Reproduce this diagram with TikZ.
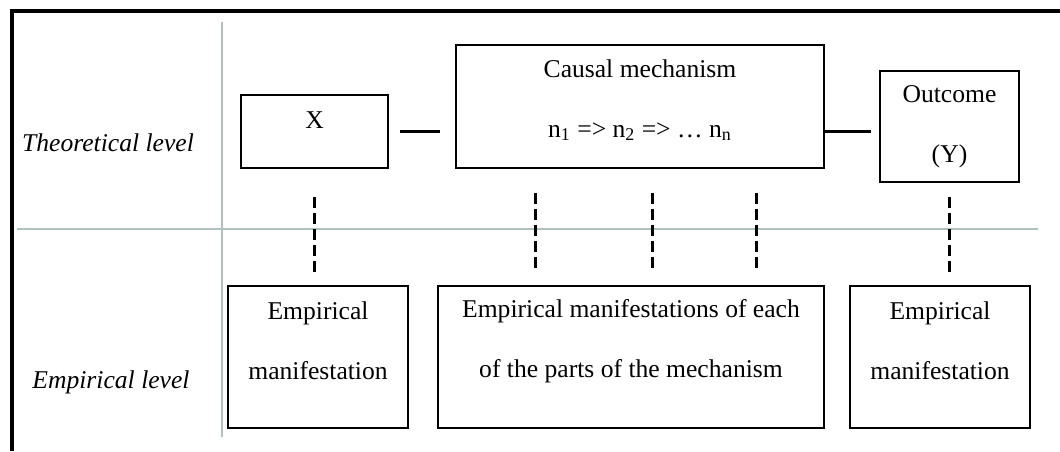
\documentclass[tikz,border=0pt]{standalone}
\usepackage{fontspec}
\setmainfont{Liberation Serif}
\usetikzlibrary{calc}
\definecolor{divgray}{RGB}{178,192,192}

\begin{document}
\begin{tikzpicture}[x=0.5pt,y=-0.5pt,
        box/.style={draw,line width=1.4pt,inner sep=0pt},
        lbl/.style={align=center,inner sep=0pt,font=\fontsize{12.8}{30}\selectfont},
        levelname/.style={inner sep=0pt,font=\fontsize{12.8}{15}\selectfont\itshape},
        divider/.style={line width=1pt,draw=divgray},
        link/.style={line width=1.4pt},
        dashlink/.style={line width=1.5pt,dash pattern=on 5.5pt off 2.5pt}]
    \useasboundingbox (0,0) rectangle (1060,451);
    % frame and the two level dividers
    \draw[line width=1.6pt] (12,451) |- (1060,11);
    \draw[divider] (222,22) -- (222,437);
    \draw[divider] (17,229) -- (1038,229);
    \node[levelname] (theo) at (108,143) {Theoretical level};
    \node[levelname] (emp) at (111,382) {Empirical level};

    % theoretical level
    \node[box,minimum width=73.5pt,minimum height=36.5pt] (x) at (314.5,131.5) {};
    \node[box,minimum width=184pt,minimum height=61.5pt] (mech) at (640,106.5) {};
    \node[box,minimum width=69.5pt,minimum height=55.5pt] (outcome) at (949.5,126.5) {};
    \node[lbl] (xtxt) at ([yshift=5.75pt]x.center) {X};
    \node[lbl] (mechtxt) at ([yshift=3.25pt]mech.center)
        {Causal mechanism\\n\textsubscript{1} => n\textsubscript{2} => … n\textsubscript{n}};
    \node[lbl] (outtxt) at (outcome.center) {Outcome\\(Y)};

    % empirical level
    \node[box,minimum width=90pt,minimum height=71pt] (xemp) at (318,357) {};
    \node[box,minimum width=193pt,minimum height=71pt] (parts) at (631,357) {};
    \node[box,minimum width=90pt,minimum height=71pt] (outemp) at (940,357) {};
    \node[lbl] (xemptxt) at ([yshift=8pt]xemp.center) {Empirical\\manifestation};
    \node[lbl] (partstxt) at ([yshift=8pt]parts.center)
        {Empirical manifestations of each\\of the parts of the mechanism};
    \node[lbl] (outemptxt) at ([yshift=8pt]outemp.center) {Empirical\\manifestation};

    % links
    \draw[link,shorten <=5.5pt,shorten >=7.5pt] (x.east) -- (x.east -| mech.west);
    \draw[link,shorten >=4pt] (mech.east |- x.east) -- (outcome.west |- x.east);
    \draw[dashlink,shorten <=14pt,shorten >=6pt] (x.south) -- (x.south |- xemp.north);
    \foreach \dx in {535,652,756}
        \draw[dashlink,shorten <=12pt,shorten >=8pt] (mech.south -| \dx,0) -- (parts.north -| \dx,0);
    \draw[dashlink,shorten <=7pt,shorten >=6pt] (outcome.south) -- (outcome.south |- outemp.north);
\end{tikzpicture}
\end{document}
